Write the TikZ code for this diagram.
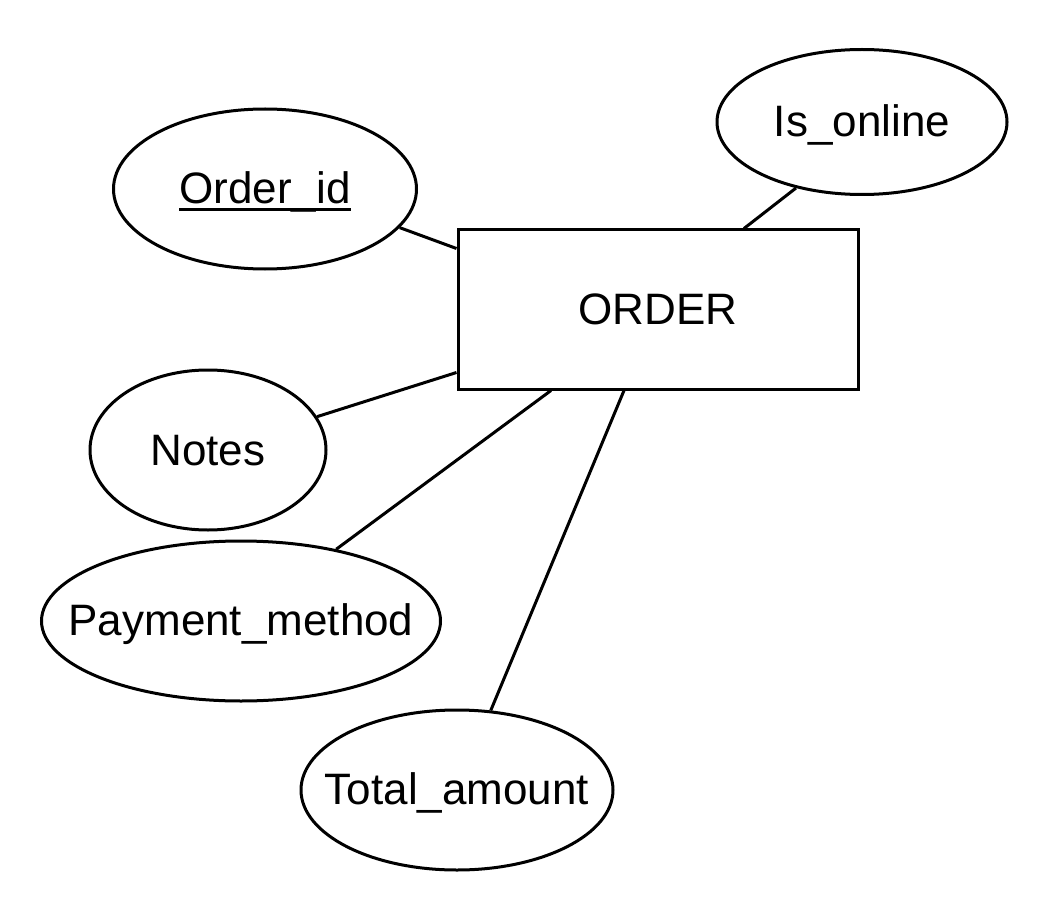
\documentclass[tikz,border=0pt]{standalone}
\usepackage{fontspec}
\setmainfont{Liberation Sans}
\usetikzlibrary{shapes.geometric,calc}
\begin{document}
\begin{tikzpicture}[x=1pt,y=-1pt,
  every node/.style={font=\fontsize{44}{52}\selectfont},
  attr/.style={draw,ellipse,line width=3pt,inner sep=0pt},
  txt/.style={inner sep=0pt,yshift=-3pt},
  ent/.style={draw,rectangle,line width=3pt,inner sep=0pt},
  link/.style={line width=3pt}]
\useasboundingbox (0,0) rectangle (1052,912);
\node[ent,minimum width=400pt,minimum height=159pt] (order) at (658,309.5) {ORDER};
\node[attr,minimum width=290pt,minimum height=145pt] (isonline) at (862,122) {};
\node[txt] (isonlinet) at (isonline) {Is\_online};
\node[attr,minimum width=303pt,minimum height=160pt] (orderid) at (265,189) {};
\node[txt] (orderidt) at (orderid) {Order\_id};
\node[attr,minimum width=236pt,minimum height=160pt] (notes) at (208,450) {};
\node[txt,yshift=2pt] (notest) at (notes) {Notes};
\node[attr,minimum width=399pt,minimum height=160pt] (payment) at (241,621) {};
\node[txt] (paymentt) at (payment) {Payment\_method};
\node[attr,minimum width=312pt,minimum height=160pt] (total) at (457,790) {};
\node[txt] (totalt) at (total) {Total\_amount};
\draw[line width=3pt] ($(orderidt.base west)+(0,5.5)$) -- ($(orderidt.base east)+(0,5.5)$);
\draw[link] (orderid.-16) -- ($(order.west)+(0,-61)$);
\draw[link] (isonline.-135) -- ($(order.north)+(86,0)$);
\draw[link] (notes.17) -- ($(order.west)+(0,63)$);
\draw[link] (payment.37) -- ($(order.south)+(-107,0)$);
\draw[link] (total.67) -- ($(order.south)+(-34,0)$);
\end{tikzpicture}
\end{document}
